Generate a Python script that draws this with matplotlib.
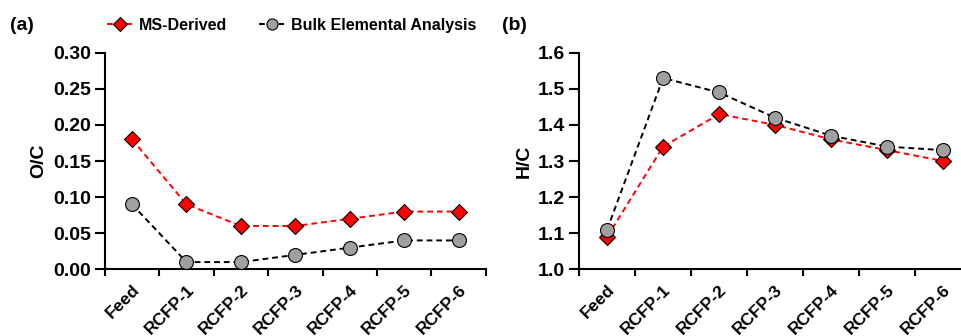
import numpy as np
import matplotlib.pyplot as plt
from matplotlib.lines import Line2D

plt.rcParams['font.family'] = ['Liberation Sans', 'DejaVu Sans']
plt.rcParams['font.weight'] = 'bold'

samples = ["Feed", "RCFP-1", "RCFP-2", "RCFP-3", "RCFP-4", "RCFP-5", "RCFP-6"]
oc_ms = [0.18, 0.09, 0.06, 0.06, 0.07, 0.08, 0.08]
oc_bulk = [0.09, 0.01, 0.01, 0.02, 0.03, 0.04, 0.04]
hc_ms = [1.09, 1.34, 1.43, 1.40, 1.36, 1.33, 1.30]
hc_bulk = [1.11, 1.53, 1.49, 1.42, 1.37, 1.34, 1.33]

fig = plt.figure(figsize=(9.62, 3.36), dpi=100)
ax1 = fig.add_axes([0.109, 0.1985, 0.396, 0.6445])
ax2 = fig.add_axes([0.602, 0.1985, 0.4075, 0.6445])

x = np.arange(len(samples))

def draw(ax, ms, bulk, ylim, yticks, fmt, ylabel):
    ax.plot(x, ms, color='red', ls=(0, (3, 2)), lw=1.4, marker='D', ms=8.5,
            mfc='red', mec='black', mew=0.8, zorder=3)
    ax.plot(x, bulk, color='black', ls=(0, (3, 2)), lw=1.4, marker='o', ms=10,
            mfc='#a0a0a0', mec='black', mew=0.8, zorder=4)
    ax.set_xlim(-0.5, 6.5)
    ax.set_ylim(*ylim)
    ax.set_yticks(yticks)
    ax.set_yticklabels([fmt.format(v) for v in yticks], fontsize=14, fontweight='bold')
    ax.set_xticks(x)
    ax.set_xticklabels(samples, rotation=45, ha='right', rotation_mode='anchor',
                       fontsize=12.5, fontweight='bold')
    ax.tick_params(axis='x', length=0, pad=9)
    ax.set_xticks(np.arange(-0.5, 7, 1.0), minor=True)
    ax.tick_params(axis='x', which='minor', length=5, width=1.5, direction='out')
    ax.tick_params(axis='y', length=7, width=1.5, direction='out', pad=3)
    for s in ['top', 'right']:
        ax.spines[s].set_visible(False)
    for s in ['left', 'bottom']:
        ax.spines[s].set_linewidth(1.5)
        ax.spines[s].set_clip_on(False)
    ax.set_ylabel(ylabel, fontsize=14, fontweight='bold', labelpad=4)
    for line in ax.lines:
        line.set_clip_on(False)

draw(ax1, oc_ms, oc_bulk, (0, 0.30), np.arange(0, 0.31, 0.05), "{:.2f}", "O/C")
draw(ax2, hc_ms, hc_bulk, (1.0, 1.6), np.arange(1.0, 1.61, 0.1), "{:.1f}", "H/C")

fig.text(0.01, 0.925, "(a)", fontsize=14, fontweight='bold', va='center')
fig.text(0.522, 0.925, "(b)", fontsize=14, fontweight='bold', va='center')

handles = [
    Line2D([], [], color='red', ls=(0, (3, 2)), lw=1.4, marker='D', ms=7,
           mfc='red', mec='black', mew=0.8),
    Line2D([], [], color='black', ls=(0, (3, 2)), lw=1.4, marker='o', ms=8,
           mfc='#a0a0a0', mec='black', mew=0.8),
]
fig.legend(handles, ["MS-Derived", "Bulk Elemental Analysis"], loc='center',
           bbox_to_anchor=(0.303, 0.925), ncol=2, frameon=False, handlelength=1.6,
           handletextpad=0.4, columnspacing=2.0, prop={'size': 11.5, 'weight': 'bold'})

fig.savefig("out.png", dpi=100)
